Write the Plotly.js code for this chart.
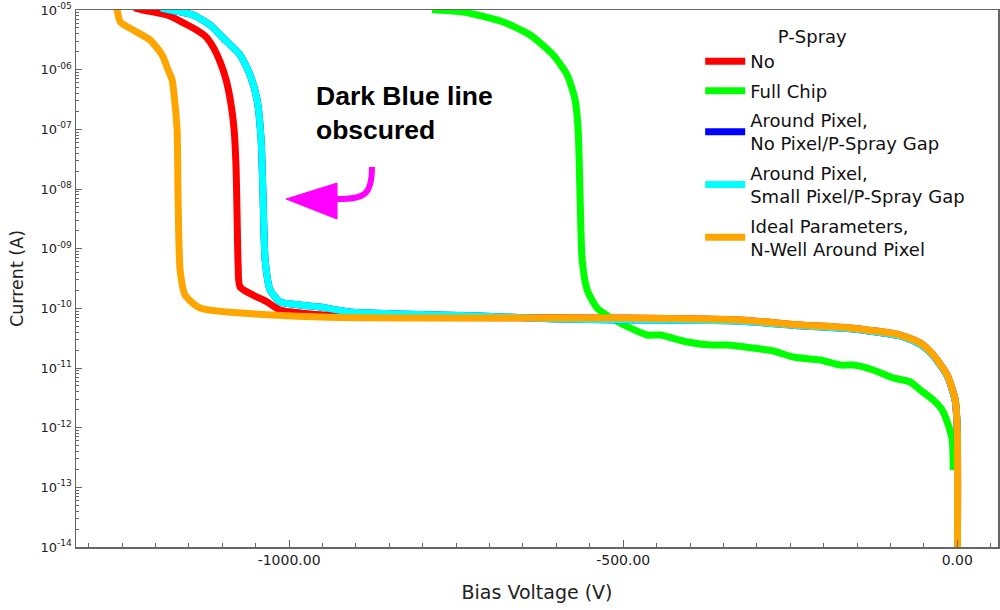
<!DOCTYPE html>
<html><head><meta charset="utf-8">
<script src="https://cdn.plot.ly/plotly-3.0.1.min.js"></script>
<style>html,body{margin:0;padding:0;background:#fff}#chart{width:1000px;height:610px}</style>
</head><body><div id="chart"></div>
<script>
// Series names (legend)
const seriesNames = ['No', 'Full Chip', 'Around Pixel,<br>No Pixel/P-Spray Gap', 'Around Pixel,<br>Small Pixel/P-Spray Gap', 'Ideal Parameters,<br>N-Well Around Pixel'];
const seriesColors = ['#ff0000', '#00ff00', '#0000ff', '#00ffff', '#ffa500'];

// P-Spray: No
const noVoltage = [0, 0, -3.0, -15.0, -35.9, -55.4, -85.3, -160.2, -235.0, -324.9, -504.5, -900, -983.5, -1013.5, -1032.9, -1073.4, -1076.3, -1077.8, -1079.3, -1082.3, -1086.8, -1094.3, -1103.3, -1113.8, -1125.7, -1143.7, -1182.6, -1218.6, -1232];
const noCurrent = [1e-15, 9.1e-13, 2.9e-12, 7.6e-12, 1.65e-11, 2.62e-11, 3.57e-11, 4.69e-11, 5.26e-11, 6.38e-11, 6.89e-11, 7.2e-11, 8.36e-11, 9.38e-11, 1.28e-10, 2.28e-10, 5.33e-10, 3.03e-9, 2.08e-8, 9.75e-8, 2.56e-7, 6.71e-7, 1.35e-6, 2.40e-6, 3.66e-6, 4.99e-6, 8.24e-6, 1.0e-5, 1.1e-5];

// P-Spray: Full Chip
const fullVoltage = [-6.0, -7.5, -13.5, -22.5, -35.9, -55.4, -70.4, -95.8, -125.7, -155.7, -175.1, -205.1, -245.5, -275.4, -305.4, -344.3, -369.8, -404.2, -444.6, -464.1, -504.5, -538.9, -553.9, -561.4, -564.4, -567.4, -571.9, -583.8, -604.8, -639.2, -679.6, -739.5, -778.4, -786];
const fullCurrent = [1.95e-13, 6.22e-13, 1.11e-12, 1.98e-12, 2.91e-12, 4.29e-12, 5.83e-12, 6.81e-12, 9.27e-12, 1.12e-11, 1.12e-11, 1.36e-11, 1.53e-11, 1.93e-11, 2.16e-11, 2.43e-11, 2.43e-11, 2.73e-11, 3.57e-11, 3.57e-11, 5.68e-11, 1.01e-10, 2.03e-10, 6.46e-10, 6.55e-9, 9.75e-8, 3.10e-7, 8.15e-7, 1.76e-6, 3.81e-6, 6.30e-6, 9.25e-6, 1.0e-5, 1.02e-5];

// P-Spray: Around Pixel, No Pixel/P-Spray Gap (obscured by the cyan line)
const aroundNoGapVoltage = [0, 0, -3.0, -15.0, -35.9, -55.4, -85.3, -160.2, -235.0, -324.9, -504.5, -600, -714, -833.8, -908.7, -953.6, -983.5, -1013.5, -1028.4, -1035.9, -1038.9, -1041.9, -1047.9, -1058.4, -1073.4, -1098.8, -1118.3, -1143.7, -1178.1, -1192];
const aroundNoGapCurrent = [1e-15, 8.9e-13, 2.8e-12, 7.4e-12, 1.6e-11, 2.5e-11, 3.45e-11, 4.55e-11, 5.1e-11, 6.1e-11, 6.4e-11, 6.6e-11, 7.45e-11, 8.04e-11, 8.7e-11, 1.05e-10, 1.14e-10, 1.28e-10, 2.03e-10, 6.46e-10, 6.55e-9, 6.62e-8, 3.10e-7, 8.15e-7, 1.76e-6, 3.40e-6, 5.61e-6, 8.24e-6, 1.0e-5, 1.08e-5];

// P-Spray: Around Pixel, Small Pixel/P-Spray Gap
const aroundSmallGapVoltage = [0, 0, -3.0, -15.0, -35.9, -55.4, -85.3, -160.2, -235.0, -324.9, -504.5, -600, -714, -833.8, -908.7, -953.6, -983.5, -1013.5, -1028.4, -1035.9, -1038.9, -1041.9, -1047.9, -1058.4, -1073.4, -1098.8, -1118.3, -1143.7, -1178.1, -1192];
const aroundSmallGapCurrent = [1e-15, 8.9e-13, 2.8e-12, 7.4e-12, 1.6e-11, 2.5e-11, 3.45e-11, 4.55e-11, 5.1e-11, 6.1e-11, 6.4e-11, 6.6e-11, 7.45e-11, 8.04e-11, 8.7e-11, 1.05e-10, 1.14e-10, 1.28e-10, 2.03e-10, 6.46e-10, 6.55e-9, 6.62e-8, 3.10e-7, 8.15e-7, 1.76e-6, 3.40e-6, 5.61e-6, 8.24e-6, 1.0e-5, 1.08e-5];

// Ideal Parameters, N-Well Around Pixel
const idealVoltage = [0, 0, -3.0, -15.0, -35.9, -55.4, -85.3, -160.2, -235.0, -324.9, -504.5, -953.6, -1133.2, -1155.7, -1163.2, -1166.2, -1167.7, -1171.4, -1175.1, -1181.1, -1190.1, -1208.1, -1233.5, -1252.7, -1257.5, -1259.5];
const idealCurrent = [1e-15, 9.1e-13, 2.9e-12, 7.6e-12, 1.65e-11, 2.62e-11, 3.57e-11, 4.69e-11, 5.26e-11, 6.38e-11, 6.89e-11, 7.16e-11, 1.01e-10, 1.67e-10, 4.40e-10, 6.55e-9, 9.75e-8, 3.10e-7, 6.71e-7, 9.86e-7, 1.76e-6, 3.14e-6, 4.62e-6, 6.30e-6, 1.0e-5, 1.2e-5];

// Axis ticks
const yTickValues = [1e-14, 1e-13, 1e-12, 1e-11, 1e-10, 1e-9, 1e-8, 1e-7, 1e-6, 1e-5];
const yTickLabels = ['10<sup>-14</sup>', '10<sup>-13</sup>', '10<sup>-12</sup>', '10<sup>-11</sup>', '10<sup>-10</sup>', '10<sup>-09</sup>', '10<sup>-08</sup>', '10<sup>-07</sup>', '10<sup>-06</sup>', '10<sup>-05</sup>'];
const xTickValues = [-1000, -500, 0];
const xTickLabels = ['-1000.00', '-500.00', '0.00'];

const yMinor = [];
yTickValues.slice(0, -1).forEach(d => { for (let k = 2; k <= 9; k++) yMinor.push(d * k); });

const xs = [noVoltage, fullVoltage, aroundNoGapVoltage, aroundSmallGapVoltage, idealVoltage];
const ys = [noCurrent, fullCurrent, aroundNoGapCurrent, aroundSmallGapCurrent, idealCurrent];

const traces = xs.map((x, i) => ({
  x: x, y: ys[i], type: 'scatter', mode: 'lines', name: seriesNames[i],
  legendgroup: 'g' + i,
  line: {color: seriesColors[i], width: 7, shape: 'spline', smoothing: 0.6},
  hoverinfo: 'skip'
}));

const axisColor = '#666';
const nb = '\u00a0';
const layout = {
  width: 1000, height: 610,
  margin: {l: 76, r: 2, t: 10, b: 63},
  paper_bgcolor: '#fff', plot_bgcolor: '#fff',
  font: {family: 'DejaVu Sans, sans-serif', color: '#222'},
  showlegend: true,
  xaxis: {
    range: [-1319, 61], showgrid: false, zeroline: false,
    showline: true, linecolor: axisColor, linewidth: 1.5, mirror: true,
    tickmode: 'array', tickvals: xTickValues, ticktext: xTickLabels,
    ticks: 'inside', ticklen: 7, tickcolor: axisColor, tickwidth: 1,
    tickfont: {size: 14, color: '#222'},
    minor: {dtick: 50, tick0: 0, ticks: 'inside', ticklen: 4, tickcolor: axisColor, showgrid: false},
    title: {text: 'Bias Voltage (V)', font: {size: 19, color: '#222'}, standoff: 18}
  },
  yaxis: {
    type: 'log', range: [-14, -5], showgrid: false, zeroline: false,
    showline: true, linecolor: axisColor, linewidth: 1.5, mirror: true,
    tickmode: 'array', tickvals: yTickValues, ticktext: yTickLabels,
    ticks: 'inside', ticklen: 6, tickcolor: axisColor, tickwidth: 1,
    tickfont: {size: 13, color: '#222'},
    minor: {tickmode: 'array', tickvals: yMinor, ticks: 'inside', ticklen: 3, tickcolor: axisColor, showgrid: false},
    title: {text: 'Current (A)', font: {size: 17.5, color: '#222'}, standoff: 12}
  },
  legend: {
    x: 0.677, y: 0.982, xanchor: 'left', yanchor: 'top',
    bgcolor: 'rgba(255,255,255,1)', borderwidth: 0,
    font: {family: 'DejaVu Sans, sans-serif', size: 18, color: '#111'},
    title: {text: 'P-Spray' + nb.repeat(8), side: 'top center', font: {size: 18, color: '#111'}},
    tracegroupgap: 3, itemwidth: 40
  },
  annotations: [{
    xref: 'paper', yref: 'paper', x: 0.2581, y: 0.8715, xanchor: 'left', yanchor: 'top',
    align: 'left', showarrow: false,
    text: '<b>Dark Blue line<br>obscured</b>',
    font: {family: 'Liberation Sans, Arial, sans-serif', size: 26.5, color: '#000'}
  }],
  shapes: [
    {type: 'path', xref: 'paper', yref: 'paper',
     path: 'M 0.321 0.7076 C 0.321 0.6555 0.3134 0.648 0.2831 0.648',
     line: {color: '#ff00ff', width: 6}, fillcolor: 'rgba(0,0,0,0)'},
    {type: 'path', xref: 'paper', yref: 'paper',
     path: 'M 0.2278 0.648 L 0.2831 0.6778 L 0.2831 0.6108 Z',
     line: {color: '#ff00ff', width: 1}, fillcolor: '#ff00ff'}
  ]
};

Plotly.newPlot('chart', traces, layout, {displayModeBar: false, staticPlot: true});
</script>
</body></html>
